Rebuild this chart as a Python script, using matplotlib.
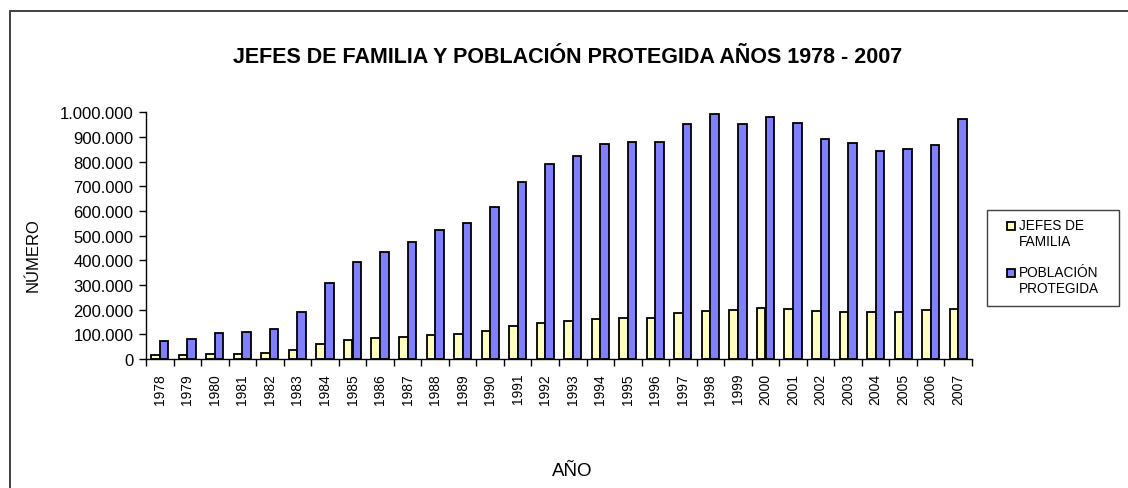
import matplotlib
matplotlib.use("Agg")
import matplotlib.pyplot as plt
import matplotlib.ticker as mticker
from matplotlib.patches import Rectangle
import numpy as np

plt.rcParams["font.family"] = ["Liberation Sans", "DejaVu Sans"]

# Annual series 1978-2007
years = list(range(1978, 2008))
jefes = [15000, 15000, 22000, 22000, 24000, 37000, 60000, 76000, 84000, 91000,
         97000, 103000, 114000, 133000, 146000, 153000, 164000, 168000, 168000, 185000,
         196000, 200000, 207000, 203000, 194000, 190000, 192000, 192000, 198000, 204000]
poblacion = [73000, 80000, 107000, 110000, 120000, 191000, 308000, 392000, 433000, 475000,
             521000, 552000, 618000, 717000, 790000, 824000, 872000, 879000, 879000, 952000,
             992000, 952000, 980000, 955000, 893000, 875000, 843000, 851000, 867000, 973000]
series_names = ["JEFES DE\nFAMILIA", "POBLACIÓN\nPROTEGIDA"]

YELLOW = "#FFFFC0"
BLUE = "#8080FF"

W, H = 1128, 489
fig = plt.figure(figsize=(W / 100, H / 100), dpi=100)


def fx(px):
    return px / W


def fy(py):
    return 1 - py / H


# chart frame (runs off the right and bottom edges)
fig.patches.append(Rectangle((fx(9.5), -0.5), 1.5, 0.5 + fy(12),
                             transform=fig.transFigure, fill=False,
                             edgecolor="#404040", linewidth=1.4))

ax = fig.add_axes([fx(146), fy(360), fx(972 - 146), (360 - 113.3) / H])

x = np.arange(len(years))
bw = 0.31
ax.bar(x - bw / 2, jefes, bw, color=YELLOW, edgecolor="black", linewidth=1.3)
ax.bar(x + bw / 2, poblacion, bw, color=BLUE, edgecolor="black", linewidth=1.3)

ax.set_xlim(-0.5, len(years) - 0.5)
ax.set_ylim(0, 1000000)
ax.yaxis.set_major_locator(mticker.MultipleLocator(100000))
ax.yaxis.set_major_formatter(
    mticker.FuncFormatter(lambda v, _: f"{int(v):,}".replace(",", ".")))

ax.set_xticks(x, [str(y) for y in years])
ax.set_xticks(np.arange(-0.5, len(years)), minor=True)
ax.tick_params(axis="x", which="major", length=0, pad=10, labelsize=10,
               labelrotation=90)
ax.tick_params(axis="x", which="minor", length=5, width=1, direction="out")
ax.tick_params(axis="y", labelsize=12, length=5, width=1, direction="out", pad=4)

for side in ("top", "right"):
    ax.spines[side].set_visible(False)
for side in ("left", "bottom"):
    ax.spines[side].set_linewidth(1)

fig.text(fx(568), fy(57.5),
         "JEFES DE FAMILIA Y POBLACIÓN PROTEGIDA AÑOS 1978 - 2007",
         ha="center", va="center", fontsize=15.5, fontweight="bold")
fig.text(fx(33), fy(255), "NÚMERO", rotation=90, ha="center", va="center",
         fontsize=12)
fig.text(fx(572), fy(472), "AÑO", ha="center", va="center", fontsize=13.5)

# legend box
fig.patches.append(Rectangle((fx(987), fy(307)), fx(1119 - 987), (307 - 211) / H,
                             transform=fig.transFigure, facecolor="white",
                             edgecolor="#404040", linewidth=1))
for name, color, yc in zip(series_names, [YELLOW, BLUE], [227, 274]):
    fig.patches.append(Rectangle((fx(1007), fy(yc + 4)), fx(8), 8 / H,
                                 transform=fig.transFigure, facecolor=color,
                                 edgecolor="black", linewidth=1.3))
    fig.text(fx(1019), fy(yc - 8), name, ha="left", va="top",
             fontsize=9.8, linespacing=1.15)

fig.savefig("out.png", dpi=100)
